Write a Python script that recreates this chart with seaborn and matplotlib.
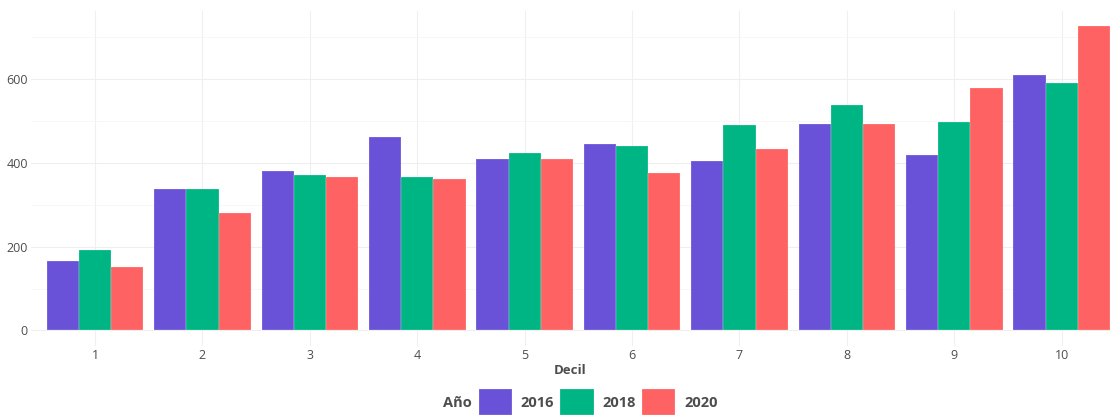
import pandas as pd
import matplotlib.pyplot as plt
from matplotlib.ticker import MultipleLocator
import seaborn as sns

# values
deciles = ["1", "2", "3", "4", "5", "6", "7", "8", "9", "10"]
years = ["2016", "2018", "2020"]
v2016 = [165, 337, 380, 462, 409, 446, 405, 494, 420, 610]
v2018 = [191, 337, 372, 367, 424, 441, 490, 538, 499, 592]
v2020 = [151, 280, 366, 362, 410, 376, 433, 493, 579, 727]
colors = ["#6A52D8", "#00B584", "#FF6262"]

df = pd.DataFrame({
    "Decil": deciles * 3,
    "Año": [y for y in years for _ in deciles],
    "valor": v2016 + v2018 + v2020,
})

sns.set_theme(style="white")
plt.rcParams["font.family"] = ["Open Sans", "DejaVu Sans"]
text_col = "#4D4D4D"

fig = plt.figure(figsize=(11.1, 4.17), dpi=100)
ax = fig.add_axes([30.6 / 1110, 1 - 345.5 / 417, 1 - 30.6 / 1110, (345.5 - 11) / 417])

sns.barplot(data=df, x="Decil", y="valor", hue="Año", order=deciles,
            hue_order=years, palette=colors, width=0.9, gap=0,
            edgecolor=(1, 1, 1, 0.5), linewidth=0.3, saturation=1, ax=ax)

ax.set_xlim(-0.6, 9.45)
ax.set_ylim(-36, 763)
ax.yaxis.set_major_locator(MultipleLocator(200))
ax.yaxis.set_minor_locator(MultipleLocator(100))
ax.grid(True, which="major", color="#EFEFEF", linewidth=0.8)
ax.grid(True, which="minor", axis="y", color="#F6F6F6", linewidth=0.6)
ax.set_axisbelow(True)
for s in ax.spines.values():
    s.set_visible(False)
ax.tick_params(length=0, labelsize=9, colors=text_col, pad=2.5)
ax.tick_params(axis="y", pad=2)
ax.set_ylabel("")
ax.set_xlabel("Decil", fontsize=9.5, fontweight="bold", color=text_col, labelpad=1.5)

# legend at the bottom with the title on the left
ax.get_legend().remove()
handles = [plt.Rectangle((0, 0), 1, 1, facecolor=c, edgecolor=(1, 1, 1, 0.5), linewidth=0.3)
           for c in colors]
leg = fig.legend(handles, years, loc="center", bbox_to_anchor=(598 / 1110, 1 - 402 / 417),
                 ncol=3, frameon=False, handlelength=2.3, handleheight=2.3,
                 handletextpad=0.6, columnspacing=0.4, borderaxespad=0,
                 prop={"size": 10.5, "weight": "bold"})
for t in leg.get_texts():
    t.set_color(text_col)
fig.text(472 / 1110, 1 - 403 / 417, "Año", ha="right", va="center",
         fontsize=10.5, fontweight="bold", color=text_col)

fig.savefig("out.png", dpi=100)
